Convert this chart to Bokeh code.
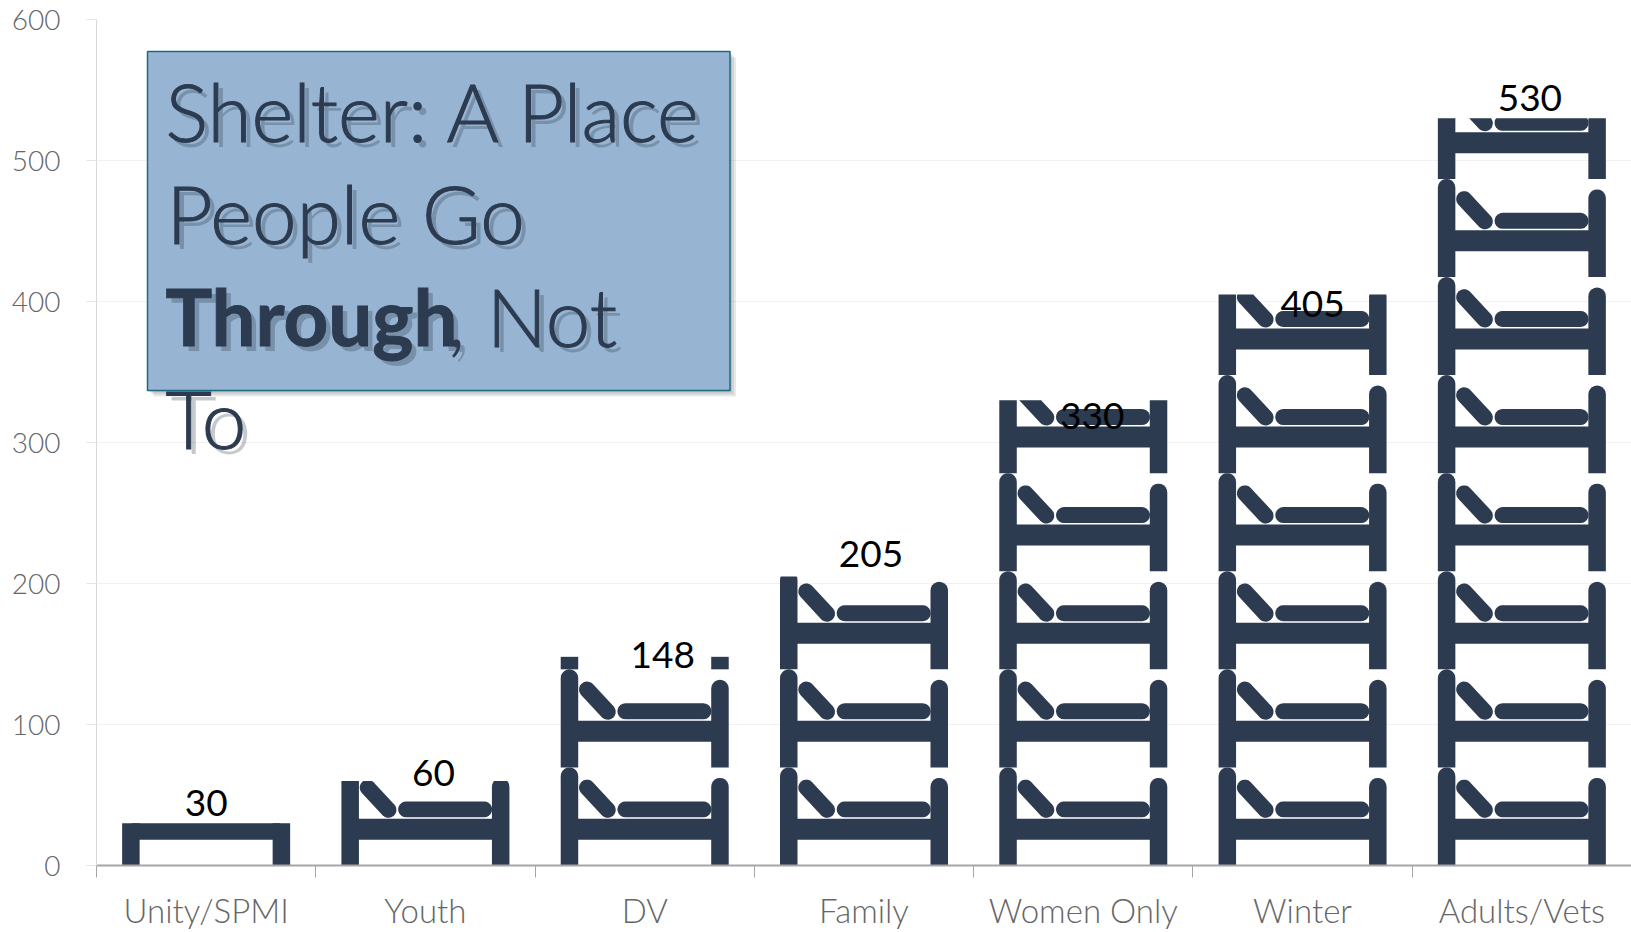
import math
from bokeh.plotting import figure
from bokeh.models import ColumnDataSource, Range1d, LinearAxis, FixedTicker, Grid
from bokeh.core.properties import value
from bokeh.embed import file_html
from bokeh.resources import INLINE

categories = ["Unity/SPMI", "Youth", "DV", "Family", "Women Only", "Winter", "Adults/Vets"]
beds_capacity = [30, 60, 148, 205, 330, 405, 530]
y_ticks = [0, 100, 200, 300, 400, 500, 600]

# nudges of the value labels, in screen pixels
label_dx = [0, 8, 18, 7, 9, 10, 8]
label_dy = [-20, -8, -2, -22, 16, 10, -20]

FONT = "Lato"
LIGHT = "Lato Light, Lato"
NAVY = "#2C3B4F"
L, T, W_PLOT, H_PLOT = 96, 19, 1535, 847
PX_X = W_PLOT / 7.0    # px per category
PX_Y = H_PLOT / 600.0  # px per unit


def capsule(x0, y0, x1, y1, r, n=10):
    a = math.atan2(y1 - y0, x1 - x0)
    pts = []
    for i in range(n + 1):
        t = a - math.pi / 2 - math.pi * i / n
        pts.append((x0 + r * math.cos(t), y0 + r * math.sin(t)))
    for i in range(n + 1):
        t = a + math.pi / 2 - math.pi * i / n
        pts.append((x1 + r * math.cos(t), y1 + r * math.sin(t)))
    return pts


def rect(x0, y0, x1, y1):
    return [(x0, y0), (x1, y0), (x1, y1), (x0, y1)]


def top_rounded(x0, x1, y1, n=10):
    r = (x1 - x0) / 2
    pts = [(x0, 0), (x1, 0)]
    for i in range(n + 1):
        t = math.pi * i / n
        pts.append(((x0 + x1) / 2 + r * math.cos(t), y1 - r + r * math.sin(t)))
    return pts


# one bed pictogram, in pixels from its bottom-left corner
BED_W, BED_H = 168.0, 98.2
BED = [
    top_rounded(0, 17.5, BED_H),
    top_rounded(BED_W - 17.5, BED_W, 87.7),
    rect(10, 25.7, BED_W - 10, 46.7),
    capsule(64.7, 56.2, 142.7, 56.2, 8),
    capsule(26.3, 78.0, 47.0, 55.7, 8),
]


def clip_top(poly, top):
    out = []
    for i, (x0, y0) in enumerate(poly):
        x1, y1 = poly[(i + 1) % len(poly)]
        if y0 <= top:
            out.append((x0, y0))
        if (y0 <= top) != (y1 <= top):
            f = (top - y0) / (y1 - y0)
            out.append((x0 + f * (x1 - x0), top))
    return out


xs, ys = [], []
for i, v in enumerate(beds_capacity):
    height = v * PX_Y
    left = (i + 0.5) * PX_X - BED_W / 2
    n = 0
    while n * BED_H < height:
        for poly in BED:
            c = clip_top(poly, height - n * BED_H)
            if len(c) >= 3:
                xs.append([(left + px) / PX_X for px, _ in c])
                ys.append([(n * BED_H + py) / PX_Y for _, py in c])
        n += 1


def dx(px):
    return (px - L) / PX_X


def dy(py):
    return (T + H_PLOT - py) / PX_Y


p = figure(width=1631, height=932, output_backend="svg", toolbar_location=None,
           x_range=Range1d(0, 7), y_range=Range1d(0, 600), x_axis_type=None, y_axis_type=None,
           min_border_left=L, min_border_right=0, min_border_top=T, min_border_bottom=66)
p.outline_line_color = None

yaxis = LinearAxis(ticker=FixedTicker(ticks=y_ticks))
yaxis.axis_line_color = "#D9D9D9"
yaxis.major_tick_line_color = "#E6E6E6"
yaxis.major_tick_in = 0
yaxis.major_tick_out = 10
yaxis.minor_tick_line_color = None
yaxis.major_label_text_font = LIGHT
yaxis.major_label_text_font_size = "28px"
yaxis.major_label_text_color = "#666666"
yaxis.major_label_standoff = 26
p.add_layout(yaxis, "left")

centers = [i + 0.5 for i in range(len(categories))]
xaxis = LinearAxis(ticker=FixedTicker(ticks=centers, minor_ticks=list(range(len(categories) + 1))))
xaxis.major_label_overrides = dict(zip(centers, categories))
xaxis.axis_line_color = "#A6A6A6"
xaxis.axis_line_width = 2
xaxis.major_tick_line_color = None
xaxis.major_tick_in = 0
xaxis.major_tick_out = 0
xaxis.minor_tick_line_color = "#A6A6A6"
xaxis.minor_tick_in = 0
xaxis.minor_tick_out = 12
xaxis.major_label_text_font = LIGHT
xaxis.major_label_text_font_size = "33px"
xaxis.major_label_text_color = "#666666"
xaxis.major_label_standoff = 12
p.add_layout(xaxis, "below")

p.ygrid.visible = False
p.xgrid.visible = False
p.add_layout(Grid(dimension=1, ticker=yaxis.ticker, grid_line_color="#F1F1F1", grid_line_width=1))

p.patches(xs, ys, fill_color=NAVY, line_color=None)

src = ColumnDataSource(dict(x=centers, y=beds_capacity, t=[str(v) for v in beds_capacity],
                            dx=label_dx, dy=label_dy))
p.text("x", "y", text="t", source=src, x_offset="dx", y_offset="dy",
       text_font=value(FONT), text_font_size="37px", text_color="#000000",
       text_align="center", text_baseline="middle")

# title box with soft shadow
BX0, BX1, BY0, BY1 = 147, 729.5, 51, 390.5
for off in (2, 4, 6):
    p.quad(left=dx(BX0 + off), right=dx(BX1 + off), top=dy(BY0 + off), bottom=dy(BY1 + off),
           fill_color="#000000", fill_alpha=0.09, line_color=None)
p.quad(left=dx(BX0), right=dx(BX1), top=dy(BY0), bottom=dy(BY1),
       fill_color="#95B3D3", fill_alpha=0.96, line_color="#1B6A80", line_width=1.5)

title_lines = [
    ("Shelter: A Place", 165, 111, "normal", LIGHT),
    ("People Go", 166, 213, "normal", LIGHT),
    ("Through", 165, 316, "bold", FONT),
    (", Not", 447, 316, "normal", LIGHT),
    ("To", 165, 418, "normal", LIGHT),
]
for txt, px, py, style, fnt in title_lines:
    size = "80px" if fnt == LIGHT else "78px"
    p.text([dx(px + 5)], [dy(py + 5)], text=[txt], text_font=value(fnt), text_font_size=size,
           text_font_style=style, text_color="#1C2733", text_alpha=0.25,
           text_align="left", text_baseline="alphabetic")
    p.text([dx(px)], [dy(py)], text=[txt], text_font=value(fnt), text_font_size=size,
           text_font_style=style, text_color=NAVY, text_outline_color=NAVY,
           text_align="left", text_baseline="alphabetic")

open("out.html", "w").write(file_html(p, INLINE))
